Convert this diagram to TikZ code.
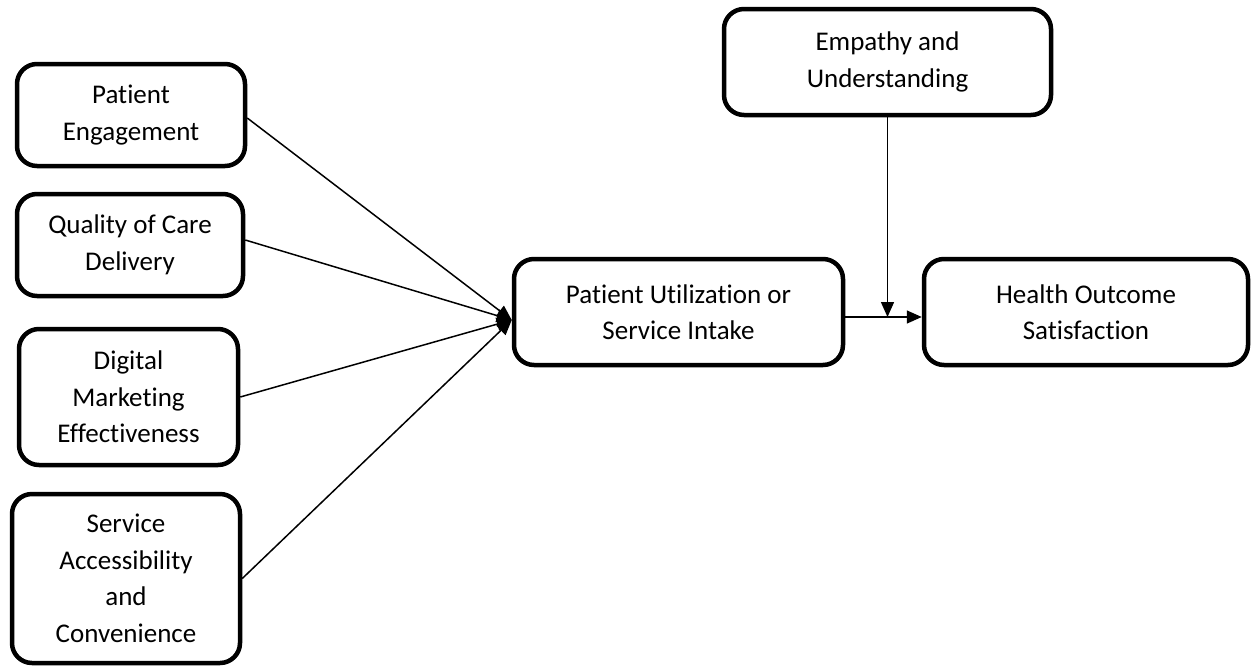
\documentclass[tikz,border=0pt]{standalone}
\usepackage{fontspec}
\setmainfont{Carlito}[Ligatures=NoCommon]
\usetikzlibrary{arrows.meta}
\begin{document}
\begin{tikzpicture}[x=1pt,y=-1pt,
  box/.style={draw, line width=4.5pt, rounded corners=20pt, align=center, inner sep=2pt,
    font=\fontsize{27}{36.5}\selectfont},
  conn/.style={line width=1.5pt, -{Triangle[length=15pt,width=13pt]}}]
\useasboundingbox (0,0) rectangle (1252,670);
\node[box, minimum width=228pt, minimum height=102pt] (pe) at (131,115) {Patient\\Engagement};
\node[box, minimum width=226pt, minimum height=102pt] (qc) at (130,245) {Quality of Care\\Delivery};
\node[box, minimum width=219pt, minimum height=136pt] (dm) at (128.5,397) {Digital\\Marketing\\Effectiveness};
\node[box, minimum width=228pt, minimum height=169pt] (sa) at (126,578.5) {Service\\Accessibility\\and\\Convenience};
\node[box, minimum width=329pt, minimum height=106pt] (pu) at (678.5,312) {Patient Utilization or\\Service Intake};
\node[box, minimum width=324pt, minimum height=106pt] (ho) at (1086,312) {Health Outcome\\Satisfaction};
\node[box, minimum width=327pt, minimum height=106pt] (eu) at (887.5,62) {Empathy and\\Understanding};
\coordinate (in) at ([yshift=-8pt]pu.west);
\coordinate (outA) at ([yshift=-5pt]pu.east);
\coordinate (outB) at ([yshift=-5pt]ho.west);
\coordinate (mod) at (eu.south |- outA);
\draw[conn] ([yshift=-3pt]pe.east) -- (in);
\draw[conn] ([yshift=5pt]qc.east) -- (in);
\draw[conn] (dm.east) -- (in);
\draw[conn] (sa.east) -- (in);
\draw[conn] (outA) -- (outB);
\draw[conn] (eu.south) -- (mod);
\end{tikzpicture}
\end{document}
